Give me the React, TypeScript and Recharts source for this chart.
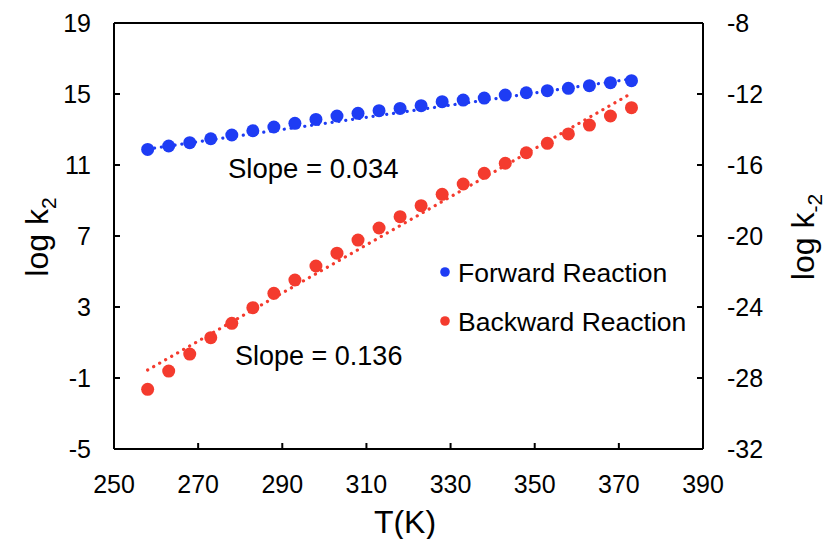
import { ScatterChart, Scatter, XAxis, YAxis, ReferenceLine } from "recharts";

// temperatures (K), one point every 5 K
const temps = [258, 263, 268, 273, 278, 283, 288, 293, 298, 303, 308, 313, 318, 323, 328, 333, 338, 343, 348, 353, 358, 363, 368, 373];

// log k2 (left axis)
const forwardLogK = [11.88, 12.07, 12.26, 12.48, 12.69, 12.93, 13.14, 13.35, 13.57, 13.76, 13.91, 14.06, 14.19, 14.34, 14.57, 14.66, 14.77, 14.94, 15.07, 15.19, 15.32, 15.47, 15.64, 15.75];

// log k-2 (right axis)
const backwardLogK = [-28.64, -27.61, -26.65, -25.73, -24.92, -24.04, -23.23, -22.48, -21.69, -20.97, -20.23, -19.55, -18.91, -18.29, -17.65, -17.07, -16.47, -15.9, -15.31, -14.78, -14.25, -13.75, -13.24, -12.77];

// linear fit end points
const fitT = [258, 373];
const forwardFit = [11.9, 15.85];
const backwardFit = [-27.55, -11.96];

const xTicks = [250, 270, 290, 310, 330, 350, 370, 390];
const leftTicks = [-5, -1, 3, 7, 11, 15, 19];
const rightTicks = [-32, -28, -24, -20, -16, -12, -8];

const BLUE = "#1e3cf4";
const RED = "#f43b2e";
const FONT = "'Liberation Sans', Arial, Helvetica, sans-serif";

const forwardData = temps.map((T, i) => ({ T, v: forwardLogK[i] }));
const backwardData = temps.map((T, i) => ({ T, v: backwardLogK[i] }));
const forwardFitData = fitT.map((T, i) => ({ T, v: forwardFit[i] }));
const backwardFitData = fitT.map((T, i) => ({ T, v: backwardFit[i] }));

const axisStroke = { stroke: "#000", strokeWidth: 2 };
const tickStyle = { fill: "#000", fontSize: 25, fontFamily: FONT };

const dot = (color: string) => (p: any) => <circle cx={p.cx} cy={p.cy} r={6.5} fill={color} />;

const fitLine = (color: string) => ({
  stroke: color,
  strokeWidth: 3.2,
  strokeDasharray: "0.1 6.8",
  strokeLinecap: "round" as const,
});

export default function App() {
  return (
    <div style={{ position: "absolute", left: 0, top: 0, background: "#fff" }}>
      <ScatterChart width={827} height={539} margin={{ top: 23, right: 0, bottom: 0, left: 0 }}>
        <XAxis
          type="number"
          dataKey="T"
          domain={[250, 390]}
          ticks={xTicks}
          height={90}
          axisLine={axisStroke}
          tickLine={axisStroke}
          tickSize={-6}
          tickMargin={32}
          tick={tickStyle}
          interval={0}
        />
        <YAxis
          yAxisId="left"
          type="number"
          dataKey="v"
          domain={[-5, 19]}
          ticks={leftTicks}
          width={114}
          axisLine={axisStroke}
          tickLine={axisStroke}
          tickSize={-6}
          tickMargin={29}
          tick={tickStyle}
          interval={0}
        />
        <YAxis
          yAxisId="right"
          orientation="right"
          type="number"
          dataKey="v"
          domain={[-32, -8]}
          ticks={rightTicks}
          width={124}
          axisLine={axisStroke}
          tickLine={axisStroke}
          tickSize={-6}
          tickMargin={30}
          tick={tickStyle}
          interval={0}
        />
        <ReferenceLine yAxisId="left" y={19} stroke="#000" strokeWidth={2} />

        <Scatter yAxisId="left" data={forwardFitData} line={fitLine(BLUE)} shape={() => null} isAnimationActive={false} legendType="none" />
        <Scatter yAxisId="right" data={backwardFitData} line={fitLine(RED)} shape={() => null} isAnimationActive={false} legendType="none" />
        <Scatter yAxisId="left" name="Forward Reaction" data={forwardData} shape={dot(BLUE)} isAnimationActive={false} />
        <Scatter yAxisId="right" name="Backward Reaction" data={backwardData} shape={dot(RED)} isAnimationActive={false} />

        <g fontFamily={FONT} fill="#000">
          <text x={228} y={178} fontSize={27.5}>Slope = 0.034</text>
          <text x={235} y={365} fontSize={27}>Slope = 0.136</text>

          <circle cx={445} cy={272} r={4.8} fill={BLUE} />
          <text x={458} y={282} fontSize={26.5}>Forward Reaction</text>
          <circle cx={445} cy={321} r={4.8} fill={RED} />
          <text x={458} y={331} fontSize={26.5}>Backward Reaction</text>

          <text x={405} y={533} fontSize={32} textAnchor="middle">T(K)</text>
          <text x={48} y={237} fontSize={32} textAnchor="middle" transform="rotate(-90 48 237)">
            log k<tspan fontSize={21} dy={8}>2</tspan>
          </text>
          <text x={814} y={237} fontSize={32} textAnchor="middle" transform="rotate(-90 814 237)">
            log k<tspan fontSize={21} dy={8}>-2</tspan>
          </text>
        </g>
      </ScatterChart>
    </div>
  );
}
